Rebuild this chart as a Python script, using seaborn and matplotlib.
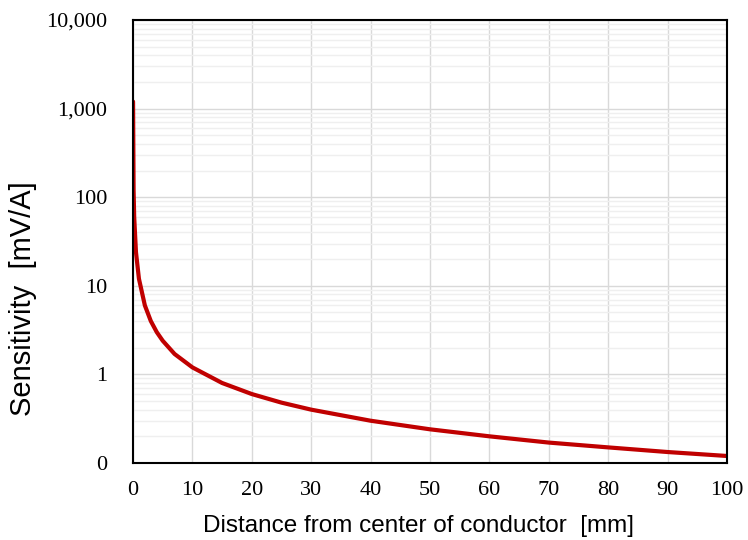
import matplotlib
matplotlib.use("Agg")
import matplotlib.pyplot as plt
from matplotlib.ticker import FixedLocator, FixedFormatter, LogLocator, NullFormatter
import pandas as pd
import seaborn as sns

# readings
distance_mm = [0.01, 0.1, 0.2, 0.5, 1, 2, 3, 4, 5, 7, 10, 15, 20, 25, 30, 40, 50, 60, 70, 80, 90, 100]
sensitivity = [1200, 120, 60, 24, 12, 6, 4, 3.0, 2.4, 1.7, 1.2, 0.8, 0.6, 0.48, 0.4, 0.3, 0.24, 0.2, 0.17, 0.15, 0.133, 0.12]

y_ticks = [0.1, 1, 10, 100, 1000, 10000]
y_labels = ["0", "1", "10", "100", "1,000", "10,000"]
x_ticks = list(range(0, 101, 10))

df = pd.DataFrame({"x": distance_mm, "y": sensitivity})

sns.set_style("white")
fig = plt.figure(figsize=(7.48, 5.40), dpi=100)
ax = fig.add_axes([0.1778, 0.1426, 0.7941, 0.8204])

sns.lineplot(data=df, x="x", y="y", ax=ax, color="#C00000", linewidth=3.0)

ax.set_yscale("log")
ax.set_xlim(0, 100)
ax.set_ylim(0.1, 10000)

ax.xaxis.set_major_locator(FixedLocator(x_ticks))
ax.yaxis.set_major_locator(FixedLocator(y_ticks))
ax.yaxis.set_major_formatter(FixedFormatter(y_labels))
ax.yaxis.set_minor_locator(LogLocator(base=10, subs=range(2, 10)))
ax.yaxis.set_minor_formatter(NullFormatter())

ax.grid(True, which="major", axis="both", color="#d9d9d9", linewidth=1.0)
ax.grid(True, which="minor", axis="y", color="#efefef", linewidth=1.0)
ax.set_axisbelow(True)

for s in ax.spines.values():
    s.set_color("black")
    s.set_linewidth(1.5)

ax.tick_params(axis="both", which="both", length=0)
ax.tick_params(axis="x", pad=13)
ax.tick_params(axis="y", pad=18.5)
for lab in ax.get_xticklabels() + ax.get_yticklabels():
    lab.set_family(["Liberation Serif", "DejaVu Serif"])
    lab.set_fontsize(16)
    lab.set_color("black")

ax.set_xlabel("Distance from center of conductor  [mm]", family=["Liberation Sans", "DejaVu Sans"],
              fontsize=17.5, va="center", color="black")
ax.xaxis.set_label_coords(0.48, -0.142)
ax.set_ylabel("Sensitivity  [mV/A]", family=["Liberation Sans", "DejaVu Sans"],
              fontsize=21, va="center", color="black")
ax.yaxis.set_label_coords(-0.185, 0.372)

fig.savefig("out.png", dpi=100)
